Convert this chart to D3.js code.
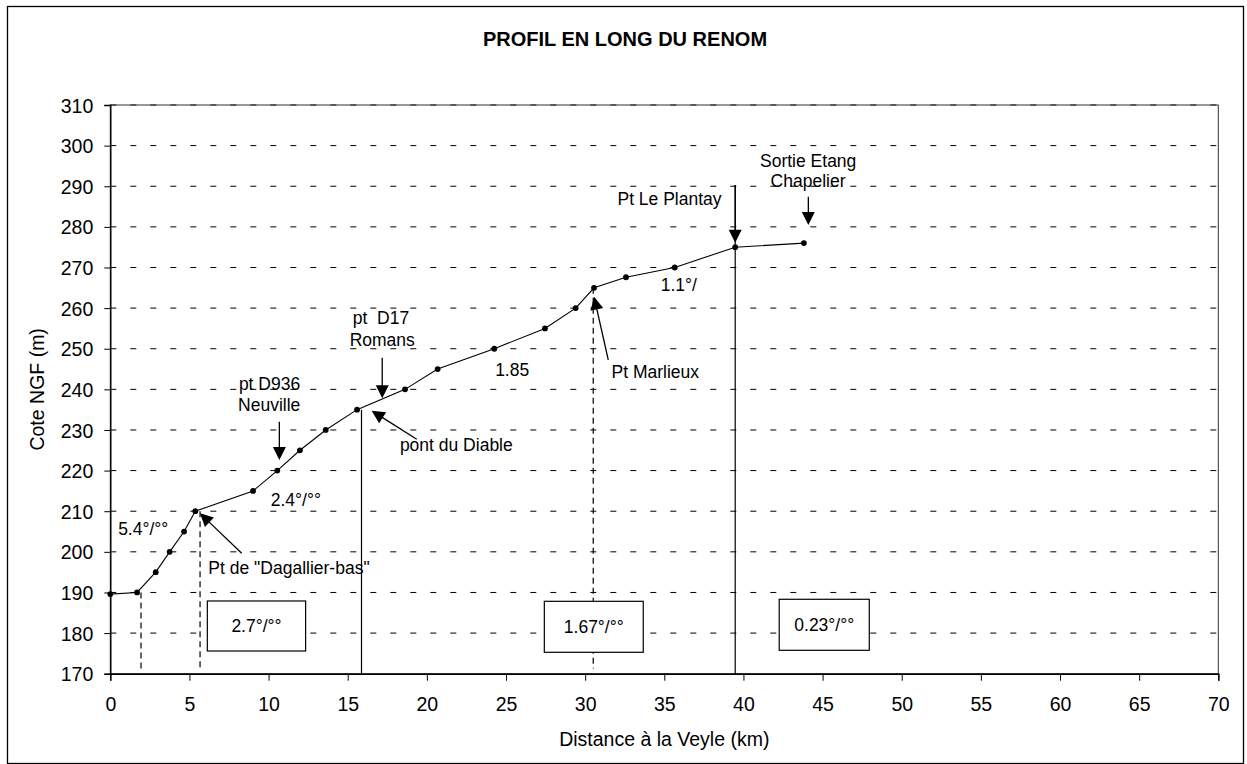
<!DOCTYPE html>
<html><head><meta charset="utf-8">
<script src="https://cdn.jsdelivr.net/npm/d3@7"></script>
<style>
body{margin:0;background:#fff}
text{font-family:"Liberation Sans",Arial,sans-serif;fill:#000}
</style>
</head><body>
<svg id="chart" width="1247" height="764"></svg>
<script>
// ---- data ----
const titleText = "PROFIL EN LONG DU RENOM";
const xTitle = "Distance à la Veyle (km)";
const yTitle = "Cote NGF (m)";
const distanceKm = [0, 1.69, 2.87, 3.75, 4.66, 5.37, 9.02, 10.55, 11.98, 13.61, 15.59, 18.62, 20.68, 24.26, 27.46, 29.40, 30.56, 32.58, 35.66, 39.48, 43.82];
const coteNGF    = [189.6, 190, 195, 200, 205, 210, 215, 220, 225, 230, 235, 240, 245, 250, 255, 260, 265, 267.6, 270, 275, 276];
const xTickValues = [0,5,10,15,20,25,30,35,40,45,50,55,60,65,70];
const yTickValues = [170,180,190,200,210,220,230,240,250,260,270,280,290,300,310];

// reference verticals (km, from m, to m, dashed)
const vlineKm   = [1.94, 5.67, 15.87, 30.51, 39.48];
const vlineTop  = [190, 210, 235, 265, 290.3];
const vlineBot  = [171.3, 171.3, 170, 171.3, 170];
const vlineDash = [true, true, false, true, false];

// text annotations (anchor in data units)
const annText = ["5.4°/°°", "Pt de \"Dagallier-bas\"", "2.4°/°°", "pt D936", "Neuville", "pt  D17", "Romans", "pont du Diable", "1.85", "Pt Marlieux", "1.1°/", "Pt Le Plantay", "Sortie Etang", "Chapelier"];
const annKm    = [2.08, 11.29, 11.72, 10.06, 10.04, 17.10, 17.18, 21.86, 25.39, 34.43, 35.92, 35.33, 44.09, 44.08];
const annM     = [204.15, 194.54, 211.28, 239.84, 234.75, 256.09, 250.75, 224.83, 243.29, 242.72, 264.29, 285.39, 294.81, 289.89];

// arrows: tail -> tip (data units)
const arrowTailKm = [8.30, 10.68, 17.18, 19.36, 31.46, 39.48, 44.10];
const arrowTailM  = [199.64, 232.04, 247.79, 227.70, 247.23, 290.31, 287.43];
const arrowTipKm  = [5.67, 10.68, 17.18, 16.51, 30.56, 39.48, 44.10];
const arrowTipM   = [209.49, 222.61, 237.80, 234.75, 262.81, 276.11, 280.46];

// slope boxes
const boxText = ["2.7°/°°", "1.67°/°°", "0.23°/°°"];
const boxKm0  = [6.13, 27.42, 42.26];
const boxKm1  = [12.34, 33.67, 47.95];
const boxTop  = [187.9, 187.82, 188.32];
const boxBot  = [175.59, 175.27, 175.76];

// ---- drawing ----
const svg = d3.select("#chart");
const x = d3.scaleLinear().domain([0,70]).range([110.3,1218.3]);
const y = d3.scaleLinear().domain([170,310]).range([673.7,105]);

svg.append("rect").attr("x",7.5).attr("y",6.5).attr("width",1236).attr("height",757)
  .attr("fill","#fff").attr("stroke","#000").attr("stroke-width",1.3);

svg.append("text").attr("x",625).attr("y",46).attr("text-anchor","middle")
  .attr("font-size",20).attr("font-weight","bold").text(titleText);

// gridlines
svg.append("g").selectAll("line").data(yTickValues.filter(v=>v>170)).join("line")
  .attr("x1",x(0)).attr("x2",x(70)).attr("y1",d=>y(d)).attr("y2",d=>y(d))
  .attr("stroke","#000").attr("stroke-width",1).attr("stroke-dasharray","6,14");

// plot border
svg.append("rect").attr("x",x(0)).attr("y",y(310)).attr("width",x(70)-x(0)).attr("height",y(170)-y(310))
  .attr("fill","none").attr("stroke","#333").attr("stroke-width",1);

// axes
const xAxis = d3.axisBottom(x).tickValues(xTickValues).tickSize(7).tickPadding(16).tickFormat(d3.format("d"));
const gx = svg.append("g").attr("transform",`translate(0,${y(170)})`).call(xAxis);
const yAxis = d3.axisLeft(y).tickValues(yTickValues).tickSize(6).tickPadding(11).tickFormat(d3.format("d"));
const gy = svg.append("g").attr("transform",`translate(${x(0)},0)`).call(yAxis);
[gx,gy].forEach(g=>{
  g.selectAll("path").attr("stroke","#000").attr("stroke-width",1.4);
  g.selectAll("line").attr("stroke","#000");
  g.selectAll("text").attr("font-size",19.5).attr("font-family","Liberation Sans, Arial, sans-serif").attr("fill","#000");
});
gx.selectAll("text").attr("dy","0.71em");
gy.selectAll("text").attr("dy","0.36em");

svg.append("text").attr("x",x(35)).attr("y",746).attr("text-anchor","middle").attr("font-size",19.5).text(xTitle);
svg.append("text").attr("transform",`translate(44,${(y(170)+y(310))/2}) rotate(-90)`)
  .attr("text-anchor","middle").attr("font-size",19.5).text(yTitle);

// verticals
svg.append("g").selectAll("line").data(vlineKm.map((k,i)=>i)).join("line")
  .attr("x1",i=>x(vlineKm[i])).attr("x2",i=>x(vlineKm[i]))
  .attr("y1",i=>y(vlineTop[i])).attr("y2",i=>y(vlineBot[i]))
  .attr("stroke","#000").attr("stroke-width",1.2)
  .attr("stroke-dasharray",i=>vlineDash[i]?"6,4":null);

// profile line
const pts = distanceKm.map((d,i)=>[d,coteNGF[i]]);
svg.append("path").datum(pts)
  .attr("d",d3.line().x(d=>x(d[0])).y(d=>y(d[1])))
  .attr("fill","none").attr("stroke","#000").attr("stroke-width",1.1);
svg.append("g").selectAll("circle").data(pts).join("circle")
  .attr("cx",d=>x(d[0])).attr("cy",d=>y(d[1])).attr("r",2.9).attr("fill","#000");

// arrows
const headLen = 13, headHalf = 6.5;
arrowTailKm.forEach((k,i)=>{
  const x0=x(k), y0=y(arrowTailM[i]), x1=x(arrowTipKm[i]), y1=y(arrowTipM[i]);
  const dx=x1-x0, dy=y1-y0, L=Math.hypot(dx,dy), ux=dx/L, uy=dy/L;
  const bx=x1-ux*headLen, by=y1-uy*headLen;
  svg.append("line").attr("x1",x0).attr("y1",y0).attr("x2",bx+ux*1).attr("y2",by+uy*1)
    .attr("stroke","#000").attr("stroke-width",1.3);
  svg.append("path").attr("d",`M${x1},${y1}L${bx-uy*headHalf},${by+ux*headHalf}L${bx+uy*headHalf},${by-ux*headHalf}Z`)
    .attr("fill","#000");
});

// annotation texts
svg.append("g").selectAll("text").data(annText.map((t,i)=>i)).join("text")
  .attr("x",i=>x(annKm[i])).attr("y",i=>y(annM[i])).attr("text-anchor","middle")
  .attr("font-size",17.5).style("white-space","pre").text(i=>annText[i]);

// slope boxes
boxText.forEach((t,i)=>{
  const bx0=x(boxKm0[i]), bx1=x(boxKm1[i]), by0=y(boxTop[i]), by1=y(boxBot[i]);
  svg.append("rect").attr("x",bx0).attr("y",by0).attr("width",bx1-bx0).attr("height",by1-by0)
    .attr("fill","#fff").attr("stroke","#000").attr("stroke-width",1.2);
  svg.append("text").attr("x",(bx0+bx1)/2).attr("y",(by0+by1)/2+6.2).attr("text-anchor","middle")
    .attr("font-size",17.5).text(t);
});
</script>
</body></html>
